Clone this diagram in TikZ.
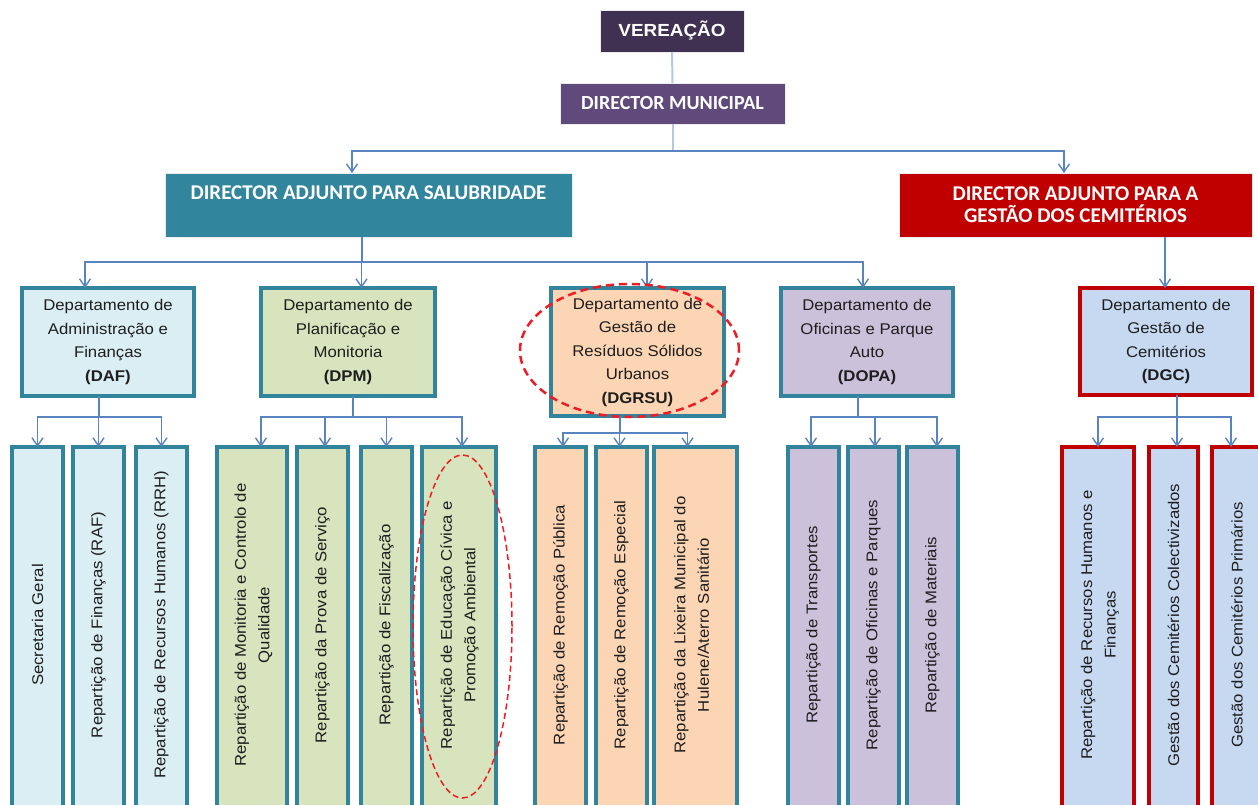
\documentclass[tikz,border=0pt]{standalone}
\usepackage{fontspec}
\setmainfont{Liberation Sans}[FakeStretch=1.08]
\newfontfamily\hdrfont{Carlito}
\usetikzlibrary{arrows.meta}
\definecolor{vereC}{HTML}{403152}
\definecolor{dmC}{HTML}{604A7B}
\definecolor{salC}{HTML}{31859C}
\definecolor{cemC}{HTML}{C00000}
\definecolor{tealB}{HTML}{31849B}
\definecolor{redB}{HTML}{C00000}
\definecolor{dafF}{HTML}{DAEEF3}
\definecolor{dpmF}{HTML}{D7E4BD}
\definecolor{dgrF}{HTML}{FCD5B5}
\definecolor{dopaF}{HTML}{CCC1DA}
\definecolor{dgcF}{HTML}{C6D9F1}
\definecolor{connC}{HTML}{5A84C0}
\definecolor{paleC}{HTML}{B3C8E3}
\definecolor{txtC}{HTML}{1E1E1E}
\definecolor{ellC}{HTML}{EE1C25}
\tikzset{
  hbox/.style={inner sep=0pt, outer sep=0pt, draw=white!85!gray, line width=0.6pt},
  dept/.style={draw=tealB, line width=3.5pt, inner sep=0pt, outer sep=0pt},
  cdept/.style={draw=redB, line width=3.5pt, inner sep=0pt, outer sep=0pt},
  deptxt/.style={font=\fontsize{15.5}{23.5}\selectfont, align=center, text=txtC, inner sep=0pt},
  subtxt/.style={font=\fontsize{15.5}{23.5}\selectfont, align=center, text=txtC, rotate=90, inner sep=0pt},
  hdr/.style={font=\hdrfont\bfseries\fontsize{21}{22.5}\selectfont, align=center, text=white, inner sep=0pt},
  conline/.style={draw=connC, line width=1.4pt},
  arr/.style={conline, -{Straight Barb[length=8pt,width=11pt,line width=1.4pt]}},
  ell/.style={draw=ellC, line width=2.5pt, dash pattern=on 8pt off 5pt},
  ellb/.style={draw=ellC, line width=1.5pt, dash pattern=on 6pt off 3.5pt},
}
\begin{document}
\begin{tikzpicture}[x=1pt,y=-1pt]
\useasboundingbox (0,0) rectangle (1258,805);
\clip (0,0) rectangle (1258,805);
\fill[white] (0,0) rectangle (1258,805);

% top boxes
\node[hbox, fill=vereC, minimum width=144, minimum height=42] (vere) at (672,31) {};
\node[font=\bfseries\fontsize{17.5}{20}\selectfont, text=white, inner sep=0pt] (vere-t) at (vere) {VEREAÇÃO};
\node[hbox, fill=dmC, minimum width=225, minimum height=41] (dm) at (672.5,103.5) {};
\node[hdr, font=\hdrfont\bfseries\fontsize{20}{22}\selectfont] (dm-t) at (dm) {DIRECTOR MUNICIPAL};
\node[hbox, fill=salC, minimum width=407, minimum height=64] (sal) at (368.5,205) {};
\node[hdr] (sal-t) at (368.5,193) {DIRECTOR ADJUNTO PARA SALUBRIDADE};
\node[hbox, fill=cemC, minimum width=353, minimum height=64] (cem) at (1075.5,205) {};
\node[hdr] (cem-t) at (1075.5,204.5) {DIRECTOR ADJUNTO PARA A\\GESTÃO DOS CEMITÉRIOS};

% departments
\node[dept, fill=dafF, minimum width=172, minimum height=108] (daf) at (108,342) {};
\node[deptxt] (daf-t) at (daf) {Departamento de\\Administração e\\Finanças\\\textbf{(DAF)}};
\node[dept, fill=dpmF, minimum width=174, minimum height=108] (dpm) at (348,342) {};
\node[deptxt] (dpm-t) at (dpm) {Departamento de\\Planificação e\\Monitoria\\\textbf{(DPM)}};
\node[dept, fill=dgrF, minimum width=173, minimum height=128] (dgr) at (637.5,352) {};
\node[deptxt] (dgr-t) at (dgr) {Departamento de\\Gestão de\\Resíduos Sólidos\\Urbanos\\\textbf{(DGRSU)}};
\node[dept, fill=dopaF, minimum width=172, minimum height=108] (dopa) at (867,342) {};
\node[deptxt] (dopa-t) at (dopa) {Departamento de\\Oficinas e Parque\\Auto\\\textbf{(DOPA)}};
\node[cdept, fill=dgcF, minimum width=172, minimum height=107] (dgc) at (1166,341.5) {};
\node[deptxt] (dgc-t) at (dgc) {Departamento de\\Gestão de\\Cemitérios\\\textbf{(DGC)}};

% sub boxes
\node[dept, fill=dafF, minimum width=51, minimum height=368] (sg) at (37.5,631) {};
\node[subtxt] (sg-t) at (37.5,625) {Secretaria Geral};
\node[dept, fill=dafF, minimum width=51, minimum height=368] (raf) at (98.5,631) {};
\node[subtxt] (raf-t) at (98.5,625) {Repartição de Finanças (RAF)};
\node[dept, fill=dafF, minimum width=51, minimum height=368] (rrh) at (161.5,631) {};
\node[subtxt] (rrh-t) at (161.5,625) {Repartição de Recursos Humanos (RRH)};

\node[dept, fill=dpmF, minimum width=70, minimum height=368] (mon) at (252,631) {};
\node[subtxt] (mon-t) at (253.5,625) {Repartição de Monitoria e Controlo de\\Qualidade};
\node[dept, fill=dpmF, minimum width=51, minimum height=368] (prova) at (322.5,631) {};
\node[subtxt] (prova-t) at (322.5,625) {Repartição da Prova de Serviço};
\node[dept, fill=dpmF, minimum width=51, minimum height=368] (fisc) at (386.5,631) {};
\node[subtxt] (fisc-t) at (386.5,625) {Repartição de Fiscalização};
\node[dept, fill=dpmF, minimum width=74, minimum height=368] (edu) at (459,631) {};
\node[subtxt] (edu-t) at (459.5,625) {Repartição de Educação Cívica e\\Promoção Ambiental};

\node[dept, fill=dgrF, minimum width=51, minimum height=368] (rp) at (560.5,631) {};
\node[subtxt] (rp-t) at (560.5,625) {Repartição de Remoção Pública};
\node[dept, fill=dgrF, minimum width=51, minimum height=368] (re) at (621.5,631) {};
\node[subtxt] (re-t) at (621.5,625) {Repartição de Remoção Especial};
\node[dept, fill=dgrF, minimum width=83, minimum height=368] (lix) at (695.5,631) {};
\node[subtxt] (lix-t) at (691.5,625) {Repartição da Lixeira Municipal do\\Hulene/Aterro Sanitário};

\node[dept, fill=dopaF, minimum width=51, minimum height=368] (tr) at (813.5,631) {};
\node[subtxt] (tr-t) at (813.5,625) {Repartição de Transportes};
\node[dept, fill=dopaF, minimum width=51, minimum height=368] (of) at (873.5,631) {};
\node[subtxt] (of-t) at (873.5,625) {Repartição de Oficinas e Parques};
\node[dept, fill=dopaF, minimum width=51, minimum height=368] (mat) at (932.5,631) {};
\node[subtxt] (mat-t) at (932.5,625) {Repartição de Materiais};

\node[cdept, fill=dgcF, minimum width=72, minimum height=368] (rhf) at (1098,631) {};
\node[subtxt] (rhf-t) at (1100,625) {Repartição de Recursos Humanos e\\Finanças};
\node[cdept, fill=dgcF, minimum width=49, minimum height=368] (col) at (1173.5,631) {};
\node[subtxt] (col-t) at (1173.5,625) {Gestão dos Cemitérios Colectivizados};
\node[cdept, fill=dgcF, minimum width=50, minimum height=368] (pri) at (1237,631) {};
\node[subtxt] (pri-t) at (1237,625) {Gestão dos Cemitérios Primários};

% connectors top
\draw[draw=paleC, line width=2pt] (vere.south) -- (dm.north);
\coordinate (dmbus) at (672.5,151);
\draw[draw=paleC, line width=2pt] (dm.south) -- (dmbus);
\draw[arr] (dmbus) -| ([xshift=-16.5pt]sal.north);
\draw[arr] (dmbus) -| ([xshift=-11.5pt]cem.north);
\draw[arr] ([xshift=-1pt]dgc.north |- cem.south) -- ([xshift=-1pt]dgc.north);

\coordinate (salbus) at (362,262);
\draw[conline] (salbus |- sal.south) -- (salbus);
\draw[arr] (salbus) -| ([xshift=-23pt]daf.north);
\draw[arr] (salbus) -| ([xshift=13.5pt]dpm.north);
\draw[arr] (salbus) -| ([xshift=9.5pt]dgr.north);
\draw[arr] (salbus) -| ([xshift=-4pt]dopa.north);

% department buses
\coordinate (dafbus) at (99,417);
\draw[conline] (dafbus |- daf.south) -- (dafbus);
\draw[arr] (dafbus) -| (sg.north);
\draw[arr] (dafbus) -| (raf.north);
\draw[arr] (dafbus) -| (rrh.north);

\coordinate (dpmbus) at (353,417);
\draw[conline] (dpmbus |- dpm.south) -- (dpmbus);
\draw[arr] (dpmbus) -| ([xshift=9pt]mon.north);
\draw[arr] (dpmbus) -| ([xshift=2.5pt]prova.north);
\draw[arr] (dpmbus) -| (fisc.north);
\draw[arr] (dpmbus) -| ([xshift=3pt]edu.north);

\coordinate (dgrbus) at (620,433);
\draw[conline] (dgrbus |- dgr.south) -- (dgrbus);
\draw[arr] (dgrbus) -| ([xshift=2.5pt]rp.north);
\draw[arr] (dgrbus) -| ([xshift=-2pt]re.north);
\draw[arr] (dgrbus) -| ([xshift=-8pt]lix.north);

\coordinate (dopabus) at (858,417);
\draw[conline] (dopabus |- dopa.south) -- (dopabus);
\draw[arr] (dopabus) -| ([xshift=-2.5pt]tr.north);
\draw[arr] (dopabus) -| ([xshift=1.5pt]of.north);
\draw[arr] (dopabus) -| ([xshift=4.5pt]mat.north);

\coordinate (dgcbus) at (1177,417);
\draw[conline] (dgcbus |- dgc.south) -- (dgcbus);
\draw[arr] (dgcbus) -| (rhf.north);
\draw[arr] (dgcbus) -| ([xshift=3.5pt]col.north);
\draw[arr] (dgcbus) -| ([xshift=-6pt]pri.north);

% highlight ellipses
\draw[ell] (629.5,350.5) ellipse [x radius=109.5pt, y radius=66.5pt];
\draw[ellb] (462.5,626.5) ellipse [x radius=49.5pt, y radius=171.5pt];
\end{tikzpicture}
\end{document}
